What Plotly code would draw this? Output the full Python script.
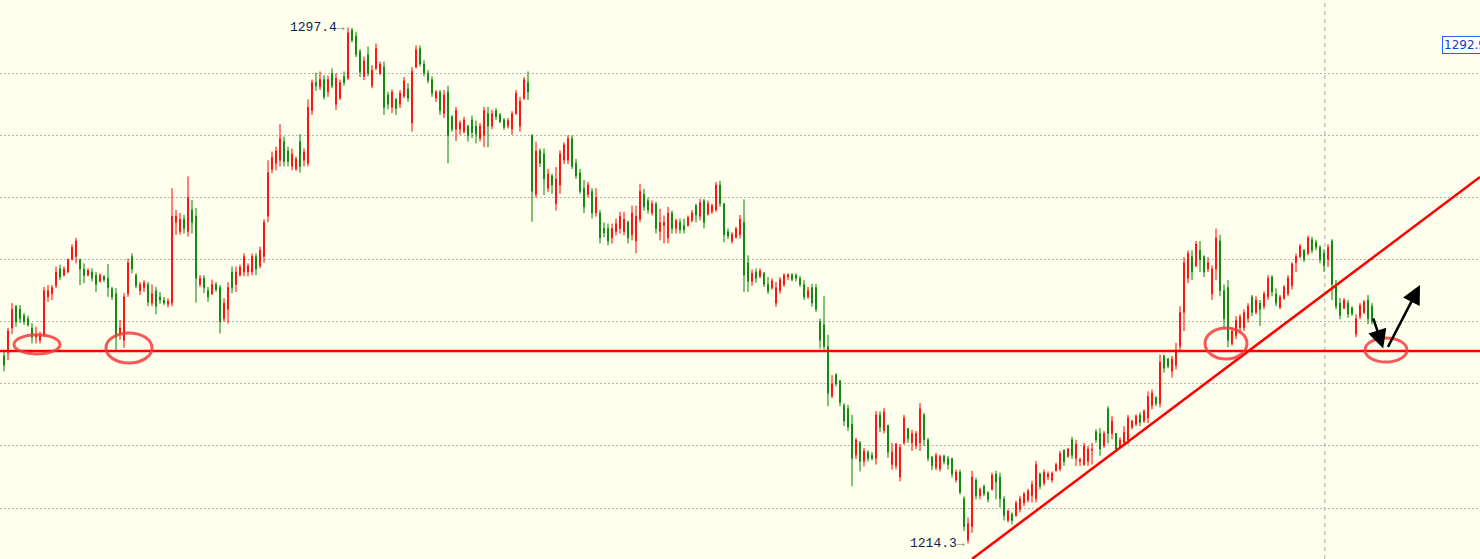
import plotly.graph_objects as go

# ---------------- data (price bars) ----------------
open_ = [
 1244.5,1245.0,1249.0,1252.5,1252.0,1251.0,1250.5,1249.0,1247.5,1247.0,
 1248.0,1254.0,1254.5,1255.8,1258.5,1257.5,1258.0,1260.0,1260.5,1260.0,
 1258.5,1257.5,1258.0,1257.5,1256.5,1257.3,1257.0,1255.3,1254.5,1248.0,
 1247.0,1254.5,1260.5,1257.5,1255.0,1255.5,1256.0,1253.0,1255.0,1254.0,
 1253.5,1252.8,1253.0,1266.0,1264.5,1266.5,1264.5,1268.0,1267.0,1256.0,
 1257.0,1255.0,1254.5,1256.0,1255.5,1250.5,1252.0,1258.0,1256.0,1257.5,
 1258.0,1258.0,1258.0,1260.5,1259.0,1260.5,1267.0,1274.5,1275.5,1276.0,
 1279.0,1277.5,1275.0,1274.6,1279.0,1276.0,1275.5,1284.0,1288.5,1287.8,
 1289.0,1287.0,1290.0,1285.0,1286.0,1289.5,1289.2,1297.0,1296.0,1293.5,
 1289.5,1293.0,1288.0,1290.8,1290.0,1291.0,1286.5,1284.5,1285.8,1285.0,
 1286.3,1287.5,1282.0,1291.0,1294.0,1291.5,1290.0,1289.0,1286.0,1287.0,
 1283.5,1287.0,1283.0,1281.0,1281.0,1280.6,1281.5,1282.5,1281.5,1279.5,
 1280.0,1283.5,1281.5,1284.0,1283.3,1282.5,1281.5,1281.0,1283.5,1281.5,
 1286.0,1288.5,1280.0,1270.5,1277.5,1277.0,1271.5,1273.5,1269.0,1272.0,
 1276.0,1276.0,1279.5,1275.5,1274.0,1271.5,1270.5,1271.0,1267.5,1267.5,
 1265.0,1265.0,1263.5,1264.5,1265.0,1264.5,1266.0,1264.0,1263.0,1266.5,
 1270.5,1269.5,1267.5,1269.0,1264.5,1265.5,1263.5,1267.5,1265.0,1266.0,
 1265.5,1265.5,1266.3,1268.7,1267.0,1269.5,1267.3,1267.7,1268.0,1272.0,
 1269.0,1264.5,1263.0,1263.6,1264.0,1266.0,1259.5,1256.5,1258.0,1257.3,
 1257.8,1256.0,1255.4,1253.0,1255.0,1256.0,1257.2,1257.6,1257.5,1257.0,
 1256.0,1254.0,1255.5,1255.5,1250.0,1249.5,1246.0,1238.0,1241.5,1240.5,
 1236.5,1236.0,1233.5,1228.5,1230.5,1227.5,1229.0,1228.5,1228.0,1235.0,
 1232.5,1233.3,1227.0,1226.8,1225.0,1230.5,1232.8,1230.5,1230.0,1230.5,
 1235.0,1231.0,1228.2,1226.5,1226.3,1228.4,1228.0,1228.0,1224.5,1225.8,
 1221.5,1214.8,1217.0,1224.5,1222.0,1223.5,1222.5,1223.0,1225.5,1225.0,
 1221.5,1218.0,1219.0,1218.8,1219.8,1220.8,1221.3,1222.0,1221.5,1225.5,
 1224.0,1225.0,1224.5,1226.0,1226.3,1229.3,1228.3,1231.0,1228.0,1227.5,
 1227.0,1227.5,1229.3,1232.3,1232.0,1230.0,1236.0,1232.0,1232.0,1229.8,
 1230.5,1231.0,1233.0,1233.5,1235.0,1234.0,1234.5,1236.5,1237.8,1236.8,
 1244.5,1244.0,1242.0,1243.0,1246.0,1251.5,1257.0,1260.5,1259.0,1261.5,
 1260.5,1258.5,1254.5,1258.5,1263.0,1255.0,1255.5,1246.5,1247.8,1249.0,
 1249.0,1250.5,1254.0,1251.5,1253.0,1252.5,1254.0,1257.2,1254.5,1252.3,
 1253.8,1254.5,1255.8,1259.5,1260.5,1261.5,1261.0,1263.2,1262.8,1262.0,
 1261.0,1260.0,1263.0,1256.0,1253.0,1252.2,1253.0,1252.2,1248.0,1250.8,
 1251.5,1253.5,1252.5,
]
high = [
 1245.3,1249.0,1253.0,1252.7,1252.7,1251.4,1251.0,1249.8,1249.2,1248.4,
 1255.6,1255.9,1255.9,1258.9,1259.2,1258.9,1260.2,1262.5,1263.5,1260.2,
 1259.4,1258.6,1258.6,1258.0,1257.8,1257.5,1259.3,1255.6,1255.4,1250.3,
 1254.6,1260.2,1261.0,1257.8,1256.4,1256.7,1256.4,1256.0,1255.6,1254.8,
 1254.0,1253.8,1271.5,1268.0,1267.5,1267.2,1273.4,1269.6,1268.3,1257.5,
 1257.5,1255.6,1256.8,1256.4,1255.9,1253.8,1256.4,1258.9,1258.9,1259.2,
 1261.0,1259.4,1261.0,1261.0,1262.1,1266.5,1276.0,1277.4,1278.2,1281.8,
 1279.8,1278.2,1277.9,1276.6,1280.2,1277.9,1285.8,1289.0,1290.1,1290.3,
 1289.7,1289.6,1290.8,1290.0,1289.0,1290.3,1297.4,1297.3,1296.7,1293.9,
 1292.7,1294.3,1291.3,1294.8,1291.9,1291.9,1287.0,1287.4,1286.0,1287.3,
 1289.4,1288.4,1291.0,1294.5,1294.5,1292.1,1290.5,1289.5,1287.3,1287.3,
 1287.3,1288.0,1283.3,1284.6,1282.4,1283.0,1281.7,1283.2,1282.4,1282.0,
 1284.6,1284.6,1284.1,1284.4,1283.6,1282.8,1282.8,1283.9,1287.3,1286.2,
 1289.4,1290.3,1280.2,1279.0,1277.9,1277.9,1274.6,1273.8,1274.9,1277.6,
 1278.9,1280.0,1280.0,1276.2,1274.6,1272.8,1272.5,1271.5,1271.5,1268.0,
 1266.0,1265.8,1265.8,1266.6,1267.7,1267.7,1266.3,1268.7,1268.7,1272.2,
 1271.4,1270.0,1269.5,1269.3,1268.2,1267.1,1268.5,1267.9,1266.6,1266.6,
 1266.6,1267.1,1268.0,1269.0,1269.8,1269.8,1269.5,1269.0,1272.5,1272.7,
 1269.1,1265.0,1264.4,1265.3,1267.2,1269.7,1260.7,1258.4,1258.6,1258.6,
 1258.0,1257.2,1257.0,1256.4,1257.2,1257.8,1257.8,1257.8,1257.8,1257.4,
 1256.7,1255.6,1256.1,1256.1,1250.5,1254.1,1247.9,1241.4,1241.7,1240.6,
 1236.9,1236.6,1235.0,1231.3,1230.8,1229.7,1229.3,1229.0,1235.6,1235.6,
 1236.1,1233.4,1230.5,1230.5,1230.3,1235.0,1232.9,1232.6,1232.4,1236.9,
 1235.3,1231.3,1228.4,1228.9,1228.6,1228.6,1228.4,1228.1,1226.2,1226.2,
 1221.9,1218.5,1226.0,1224.9,1223.3,1223.8,1222.7,1225.7,1226.0,1225.7,
 1221.9,1219.8,1219.3,1221.2,1222.0,1222.6,1223.1,1224.4,1227.6,1225.7,
 1226.2,1225.9,1225.9,1227.3,1229.2,1229.5,1229.7,1231.5,1231.0,1228.1,
 1230.5,1230.0,1230.5,1232.7,1232.9,1232.4,1236.4,1234.8,1232.1,1231.4,
 1233.2,1235.0,1234.2,1235.1,1235.4,1235.9,1238.8,1239.1,1238.0,1244.7,
 1244.7,1244.2,1244.5,1246.6,1252.5,1260.4,1261.5,1261.5,1263.0,1263.0,
 1260.7,1260.4,1259.1,1265.0,1264.0,1256.0,1256.7,1249.0,1250.9,1251.2,
 1252.0,1253.0,1254.3,1254.1,1253.5,1254.9,1257.5,1257.5,1255.4,1254.3,
 1255.9,1257.5,1259.6,1261.0,1262.5,1261.7,1263.9,1263.7,1263.2,1262.3,
 1261.7,1262.5,1263.3,1256.7,1253.8,1253.8,1253.5,1252.5,1251.2,1253.0,
 1253.5,1254.3,1253.0,
]
low = [
 1242.0,1243.8,1248.0,1249.2,1249.8,1249.5,1249.2,1246.5,1246.5,1246.5,
 1247.6,1253.2,1253.5,1255.4,1256.7,1257.3,1257.8,1259.9,1259.4,1255.9,
 1256.2,1257.3,1256.5,1254.8,1256.3,1256.4,1254.0,1253.5,1245.3,1247.1,
 1245.8,1254.0,1257.8,1255.4,1254.3,1254.8,1252.5,1252.5,1251.2,1252.9,
 1252.7,1252.3,1252.5,1264.0,1264.0,1264.2,1263.7,1264.2,1253.1,1255.6,
 1254.6,1253.2,1254.3,1254.8,1248.1,1250.0,1249.7,1254.6,1254.8,1257.3,
 1257.3,1257.3,1257.5,1257.5,1258.6,1259.5,1266.0,1273.9,1274.4,1275.0,
 1275.0,1275.0,1274.4,1274.3,1274.0,1275.0,1275.0,1283.3,1287.2,1287.3,
 1285.8,1286.2,1287.6,1284.1,1285.7,1288.0,1288.9,1295.0,1292.6,1289.4,
 1288.9,1289.5,1287.6,1290.5,1289.7,1283.3,1284.2,1283.6,1283.3,1284.4,
 1286.0,1285.4,1280.6,1290.8,1291.1,1289.5,1288.4,1286.2,1285.4,1283.3,
 1282.8,1275.5,1280.6,1279.1,1280.1,1280.3,1279.0,1279.6,1278.7,1279.0,
 1278.1,1278.1,1281.0,1282.5,1282.0,1280.9,1281.1,1280.1,1283.3,1280.6,
 1285.7,1285.7,1266.1,1270.0,1274.9,1270.4,1270.9,1270.6,1267.9,1270.6,
 1275.4,1275.4,1274.6,1273.0,1270.6,1267.5,1270.0,1266.6,1266.9,1262.6,
 1263.6,1262.3,1262.6,1263.9,1264.2,1263.9,1262.6,1263.1,1261.0,1266.0,
 1267.9,1267.4,1267.1,1264.2,1263.1,1262.6,1262.6,1264.2,1264.2,1264.2,
 1264.2,1265.3,1266.0,1266.0,1266.3,1265.0,1267.1,1267.4,1267.7,1268.5,
 1262.8,1263.3,1262.6,1263.4,1263.4,1254.8,1254.8,1255.8,1256.3,1257.0,
 1255.6,1254.5,1255.2,1252.4,1254.5,1255.6,1256.7,1256.5,1256.5,1255.6,
 1253.5,1253.7,1252.4,1251.6,1245.7,1245.5,1236.4,1237.7,1239.6,1236.4,
 1233.2,1232.4,1223.5,1227.9,1225.9,1226.7,1227.5,1227.7,1227.0,1232.2,
 1232.0,1228.1,1226.2,1226.2,1224.3,1230.2,1230.5,1229.2,1229.5,1229.2,
 1230.0,1227.5,1226.1,1226.1,1225.9,1227.0,1226.2,1224.9,1224.1,1222.2,
 1216.3,1214.3,1216.0,1221.4,1221.4,1221.9,1220.9,1222.8,1221.4,1220.1,
 1218.0,1217.7,1217.4,1218.6,1219.3,1220.3,1220.9,1220.9,1220.9,1223.0,
 1223.6,1224.5,1224.1,1225.9,1225.9,1226.8,1228.1,1227.9,1226.8,1226.8,
 1226.8,1226.8,1227.0,1230.5,1228.4,1229.7,1230.4,1231.1,1229.2,1229.5,
 1230.0,1230.3,1232.7,1233.2,1233.2,1233.7,1233.7,1235.9,1236.4,1236.2,
 1241.8,1242.5,1241.0,1242.3,1245.2,1248.5,1256.2,1256.7,1258.8,1258.0,
 1257.2,1258.0,1253.5,1256.7,1254.1,1248.8,1245.9,1246.1,1247.2,1248.5,
 1248.5,1249.9,1250.9,1251.2,1249.3,1252.0,1253.5,1254.1,1252.5,1252.0,
 1253.5,1254.1,1255.2,1258.0,1260.2,1259.6,1260.7,1261.0,1261.5,1259.4,
 1258.0,1258.8,1253.5,1252.0,1250.4,1252.0,1250.6,1250.9,1247.5,1250.4,
 1251.2,1249.6,1249.6,
]
close = [
 1243.0,1248.5,1252.0,1250.0,1250.5,1250.0,1249.5,1247.5,1248.0,1247.8,
 1255.0,1255.0,1255.5,1258.0,1257.2,1258.5,1260.0,1262.0,1263.0,1258.5,
 1257.5,1258.3,1257.0,1256.0,1257.5,1256.8,1255.5,1254.0,1247.5,1249.0,
 1254.0,1259.5,1258.5,1255.8,1256.0,1256.3,1253.2,1254.5,1252.5,1253.5,
 1253.0,1253.3,1267.0,1267.0,1266.5,1265.0,1270.0,1266.0,1257.0,1257.0,
 1255.5,1254.0,1256.0,1255.2,1250.0,1253.0,1255.5,1255.5,1258.0,1258.8,
 1260.5,1259.0,1260.5,1258.5,1261.5,1266.0,1274.0,1276.5,1277.5,1279.5,
 1275.8,1275.8,1277.0,1276.2,1275.0,1277.3,1284.5,1288.5,1288.0,1289.0,
 1286.2,1289.0,1288.0,1289.2,1288.5,1288.5,1296.5,1295.3,1293.0,1290.2,
 1292.0,1290.0,1290.5,1294.0,1291.5,1284.5,1285.0,1287.0,1284.3,1286.8,
 1288.8,1286.0,1290.3,1293.8,1291.5,1290.0,1288.8,1286.8,1287.0,1284.0,
 1286.5,1280.0,1281.0,1284.0,1282.0,1282.5,1280.0,1280.5,1280.2,1281.5,
 1284.0,1281.5,1283.5,1283.0,1282.2,1281.3,1282.4,1283.5,1286.8,1285.5,
 1289.0,1287.0,1271.0,1277.5,1275.5,1273.0,1273.8,1272.0,1273.0,1277.0,
 1278.5,1279.5,1275.0,1273.5,1271.0,1268.5,1272.0,1267.5,1270.0,1263.5,
 1264.3,1263.0,1265.0,1265.8,1267.0,1266.5,1263.5,1267.5,1267.0,1271.0,
 1268.5,1268.0,1269.0,1265.0,1266.0,1266.0,1267.5,1265.0,1266.3,1264.8,
 1264.8,1266.8,1267.5,1267.2,1269.2,1266.0,1269.0,1268.7,1272.0,1269.0,
 1264.0,1263.8,1264.1,1265.0,1266.5,1257.5,1256.5,1257.8,1257.0,1258.2,
 1256.0,1254.9,1256.6,1255.5,1256.8,1257.5,1257.6,1256.8,1257.0,1256.0,
 1254.0,1255.0,1253.0,1252.0,1247.0,1246.0,1238.5,1240.0,1240.0,1237.0,
 1234.0,1233.0,1228.0,1231.0,1227.5,1229.2,1228.0,1228.0,1235.0,1233.0,
 1235.5,1229.0,1229.0,1230.3,1229.8,1234.5,1231.2,1232.0,1232.0,1236.0,
 1231.0,1228.0,1226.8,1228.5,1228.3,1227.5,1227.0,1225.5,1225.8,1222.5,
 1217.0,1217.5,1225.0,1222.0,1223.0,1222.3,1221.4,1225.3,1224.2,1221.5,
 1218.8,1219.5,1218.0,1220.8,1221.5,1222.3,1222.8,1223.8,1227.0,1223.5,
 1225.8,1225.5,1225.6,1227.0,1228.8,1227.5,1229.5,1228.5,1230.3,1227.8,
 1230.0,1229.5,1229.5,1231.0,1229.5,1232.0,1232.0,1234.0,1229.5,1231.0,
 1232.2,1234.5,1234.0,1234.8,1233.8,1235.6,1238.0,1238.5,1236.8,1243.5,
 1242.5,1242.8,1244.0,1245.5,1251.5,1259.5,1261.0,1258.0,1262.5,1260.0,
 1258.0,1259.5,1258.5,1263.5,1255.0,1250.5,1247.0,1248.5,1250.2,1250.8,
 1251.5,1252.5,1251.5,1253.5,1252.0,1254.5,1257.0,1254.8,1253.0,1254.0,
 1255.6,1257.0,1259.3,1260.5,1262.2,1260.0,1263.5,1261.5,1262.0,1260.0,
 1259.0,1262.0,1256.0,1252.5,1251.0,1253.5,1251.2,1251.3,1250.5,1252.6,
 1253.2,1250.5,1250.0,
]
bar_index = list(range(len(close)))

grid_levels = [1220, 1230, 1240, 1250, 1260, 1270, 1280, 1290]
support_level = 1245.3
trend_from = (242, 1211.8)
trend_to = (369, 1273.3)
marker_line_x = 330.2
high_label = (86, 1297.4, "1297.4")
low_label = (241, 1214.3, "1214.3")
price_tag = "1292.9"
circles = [  # (x0, x1, y0, y1)
    (2.5, 14.0, 1244.8, 1247.9),
    (25.5, 37.0, 1243.35, 1248.2),
    (300.25, 310.75, 1244.0, 1249.0),
    (340.25, 350.75, 1243.5, 1247.4),
]
arrows = [  # (tail_x, tail_y, head_x, head_y)
    (342.2, 1250.8, 344.8, 1245.7),
    (345.8, 1245.7, 354.0, 1255.9),
]

BG = "#FFFFEE"

fig = go.Figure()
fig.add_trace(go.Candlestick(
    x=bar_index, open=open_, high=high, low=low, close=close,
    increasing=dict(line=dict(color="#FF0000", width=1), fillcolor="#FF0000"),
    decreasing=dict(line=dict(color="#008000", width=1), fillcolor="#008000"),
    whiskerwidth=0, hoverinfo="skip", showlegend=False,
))

shapes = []
shapes.append(dict(type="line", xref="paper", yref="y", x0=0, x1=1,
                   y0=support_level, y1=support_level,
                   line=dict(color="#FF0000", width=2.5), layer="above"))
shapes.append(dict(type="line", xref="x", yref="y",
                   x0=trend_from[0], y0=trend_from[1], x1=trend_to[0], y1=trend_to[1],
                   line=dict(color="#FF0000", width=2.5), layer="above"))
shapes.append(dict(type="line", xref="x", yref="paper", x0=marker_line_x, x1=marker_line_x,
                   y0=0, y1=1, line=dict(color="#A8A8A8", width=1, dash="4px,4px"),
                   layer="below"))
for (x0, x1, y0, y1) in circles:
    shapes.append(dict(type="circle", xref="x", yref="y", x0=x0, x1=x1, y0=y0, y1=y1,
                       line=dict(color="rgba(245,60,60,0.85)", width=3), layer="above"))

annotations = []
for (tx, ty, hx, hy) in arrows:
    annotations.append(dict(x=hx, y=hy, ax=tx, ay=ty, xref="x", yref="y",
                            axref="x", ayref="y", text="", showarrow=True,
                            arrowhead=2, arrowsize=1.5, arrowwidth=2.5,
                            arrowcolor="#000000"))
for (lx, ly, txt) in (high_label, low_label):
    annotations.append(dict(x=lx, y=ly, xref="x", yref="y",
                            text=txt + '<span style="color:#7a7a7a">→</span>',
                            showarrow=False, xanchor="right", yanchor="middle",
                            xshift=-1,
                            font=dict(family="Liberation Mono", size=13, color="#0b2450")))
annotations.append(dict(x=1442 / 1480, y=1 - 45 / 559, xref="paper", yref="paper",
                        text=price_tag, showarrow=False, xanchor="left", yanchor="middle",
                        font=dict(family="DejaVu Sans", size=12, color="#2040c0"),
                        bordercolor="#2a5cff", borderwidth=1, borderpad=1,
                        bgcolor="#FFFFFF"))

fig.update_layout(
    width=1480, height=559,
    margin=dict(l=0, r=0, t=0, b=0),
    paper_bgcolor=BG, plot_bgcolor=BG,
    showlegend=False,
    boxgap=0.75,
    shapes=shapes, annotations=annotations,
    xaxis=dict(range=[-1, 369], showgrid=False, zeroline=False, showticklabels=False,
               showline=False, ticks="", rangeslider=dict(visible=False), fixedrange=True),
    yaxis=dict(range=[1211.8, 1301.8], tickvals=grid_levels, showgrid=True,
               gridcolor="#B5B5AD", griddash="2px,2px", gridwidth=1,
               zeroline=False, showticklabels=False, showline=False, ticks="",
               fixedrange=True),
)

fig.write_html("out.html",
               config={"displayModeBar": False, "staticPlot": True},
               post_script="document.body.style.margin='0';"
                           "document.body.style.overflow='hidden';"
                           "document.body.style.background='" + BG + "';")
